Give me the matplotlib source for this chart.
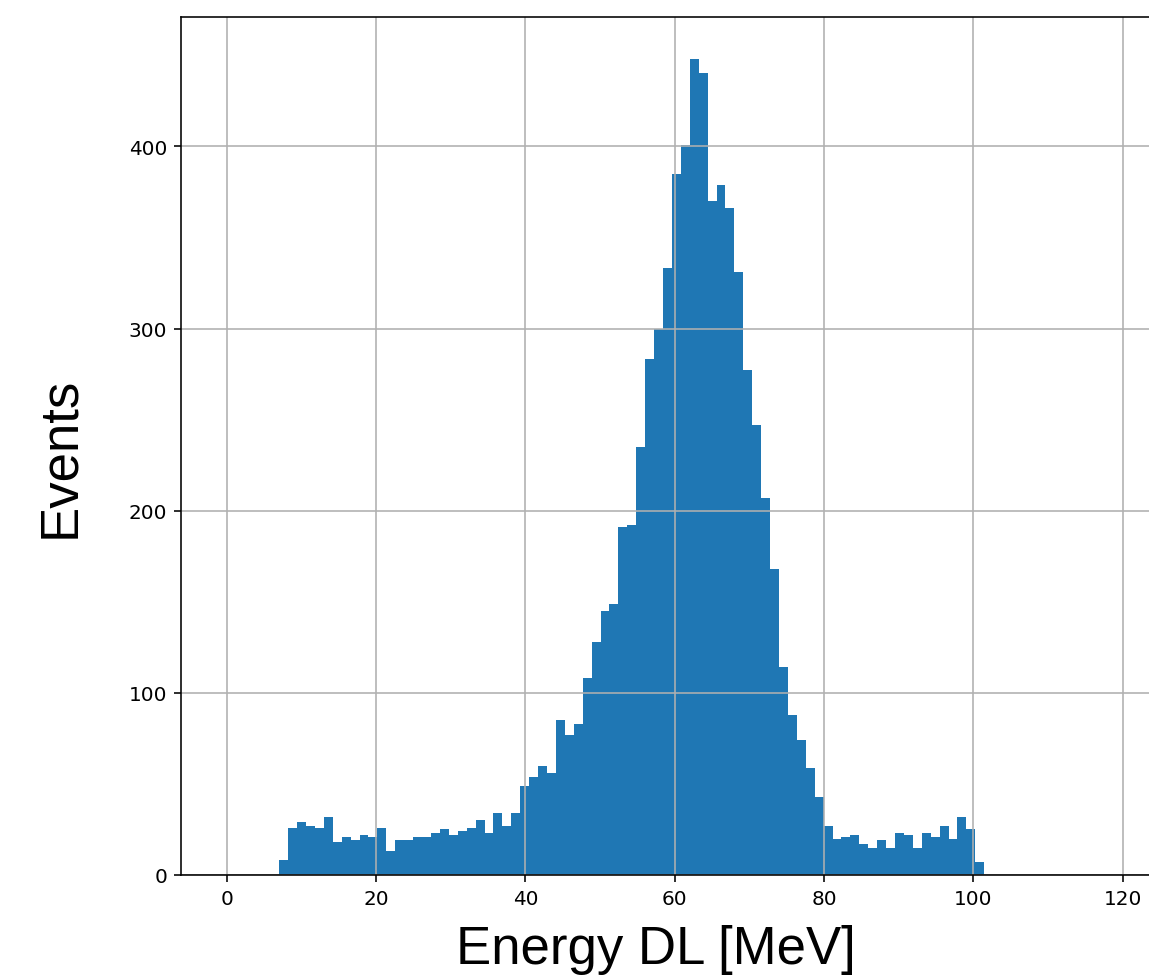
import numpy as np
import matplotlib
matplotlib.use('Agg')
import matplotlib.pyplot as plt

#-----------------------------------------------------------------------------
# histogram counts, one per bin
counts = [8, 26, 29, 27, 26, 32, 18, 21, 19, 22,
          21, 26, 13, 19, 19, 21, 21, 23, 25, 22,
          24, 26, 30, 23, 34, 27, 34, 49, 54, 60,
          56, 85, 77, 83, 108, 128, 145, 149, 191, 192,
          235, 283, 300, 333, 385, 401, 448, 440, 370, 379,
          366, 331, 277, 247, 207, 168, 114, 88, 74, 59,
          43, 27, 20, 21, 22, 17, 15, 19, 15, 23,
          22, 15, 23, 21, 27, 20, 32, 25, 7]
e_min = 7.04     # first bin edge [MeV]
e_max = 101.46   # last bin edge [MeV]
xticks = [0, 20, 40, 60, 80, 100, 120]
yticks = [0, 100, 200, 300, 400]

edges = np.linspace(e_min, e_max, len(counts) + 1)
centers = 0.5 * (edges[:-1] + edges[1:])

#-----------------------------------------------------------------------------
'''Create figure'''
W, H = 1149, 978
fig = plt.figure(figsize=(W / 100, H / 100), dpi=100)
ax = fig.add_axes([181 / W, (H - 876) / H, (1160 - 181) / W, (876 - 18) / H])

ax.hist(centers, bins=edges, weights=counts, color='#1f77b4')
ax.set_xlim(-6.12, 125.0)
ax.set_ylim(0, 471)
ax.set_xticks(xticks)
ax.set_yticks(yticks)
ax.grid(True, color='#b0b0b0', linewidth=1.15)

ax.tick_params(labelsize=14.4, length=5, width=1.15, pad=5)
for s in ax.spines.values():
    s.set_linewidth(1.15)

ax.set_xlabel('Energy DL [MeV]', fontsize=38, family=['Liberation Sans', 'DejaVu Sans'])
ax.xaxis.set_label_coords((656 - 181) / (1160 - 181), -(925 - 876) / 858)
ax.xaxis.label.set_va('top')
ax.set_ylabel('Events', fontsize=38, family=['Liberation Sans', 'DejaVu Sans'])
ax.yaxis.label.set_va('center')
ax.yaxis.set_label_coords((60 - 181) / (1160 - 181), (876 - 457) / 858)

fig.savefig('out.png', dpi=100)
